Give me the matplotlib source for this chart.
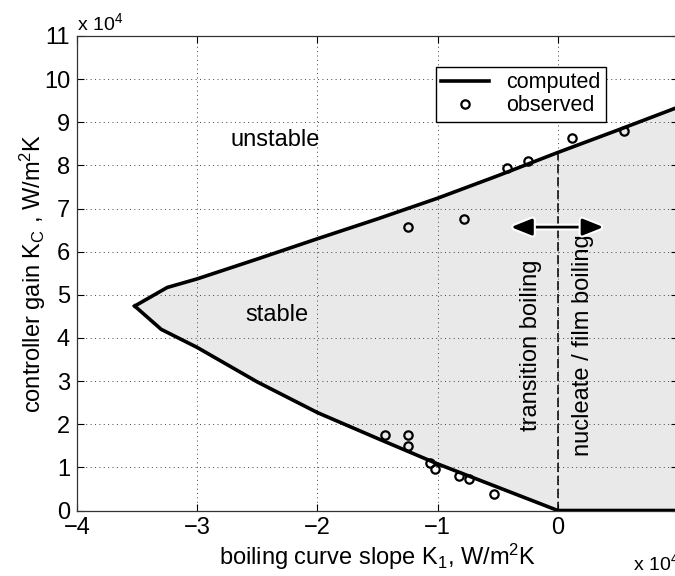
import matplotlib
matplotlib.use("Agg")
import matplotlib.pyplot as plt
import matplotlib.patheffects as pe
import numpy as np

plt.rcParams["font.family"] = ["Liberation Sans", "DejaVu Sans"]
plt.rcParams["mathtext.fontset"] = "custom"
plt.rcParams["mathtext.rm"] = "Liberation Sans"
plt.rcParams["mathtext.it"] = "Liberation Sans"
plt.rcParams["font.size"] = 17

# stability boundary (x in 1e4 W/m2K, y in 1e4 W/m2K)
upper_x = [-3.52, -3.25, -3.0, -2.5, -2.0, -1.5, -1.0, -0.5, 0.0, 0.5, 1.0]
upper_y = [4.74, 5.17, 5.37, 5.83, 6.30, 6.76, 7.24, 7.76, 8.30, 8.82, 9.35]
lower_x = [-3.52, -3.3, -3.0, -2.5, -2.0, -1.5, -1.0, -0.5, 0.0, 1.0]
lower_y = [4.74, 4.20, 3.78, 2.98, 2.27, 1.67, 1.08, 0.54, 0.0, 0.0]

# observed stability limits
obs_x = [-1.25, -0.78, -0.42, -0.25, 0.12, 0.55,
         -1.44, -1.25, -1.25, -1.06, -1.02, -0.82, -0.74, -0.53]
obs_y = [6.57, 6.75, 7.94, 8.10, 8.63, 8.79,
         1.74, 1.74, 1.49, 1.09, 0.97, 0.81, 0.72, 0.39]

fig = plt.figure(figsize=(6.75, 5.76), dpi=100)
ax = fig.add_axes([0.1141, 0.1137, 0.8904, 0.8238])

# shaded stable region
xs = np.linspace(-3.52, 1.0, 400)
up = np.interp(xs, upper_x, upper_y)
lo = np.interp(xs, lower_x, lower_y)
ax.fill_between(xs, lo, up, color="#e9e9e9", lw=0, zorder=0)

ax.plot(upper_x, upper_y, color="k", lw=2.6, zorder=3, label="computed")
ax.plot(lower_x, lower_y, color="k", lw=2.6, zorder=3)
ax.plot(obs_x, obs_y, "o", ms=6, mfc="none", mec="k", mew=1.6, zorder=4,
        label="observed")

ax.plot([0, 0], [0, np.interp(0, upper_x, upper_y)], color="k", lw=1.1,
        dashes=(6, 2.5), zorder=2)

ax.text(-2.35, 8.59, "unstable", ha="center", va="center")
ax.text(-2.34, 4.53, "stable", ha="center", va="center")
ax.text(-0.22, 3.84, "transition boiling", rotation=90, ha="center", va="center")
ax.text(0.21, 3.84, "nucleate / film boiling", rotation=90, ha="center", va="center")

arr = ax.annotate("", xy=(0.38, 6.57), xytext=(-0.39, 6.57),
                  arrowprops=dict(arrowstyle="<|-|>,head_length=0.75,head_width=0.3",
                                  color="k", lw=2, shrinkA=0, shrinkB=0),
                  zorder=5)
arr.arrow_patch.set_path_effects([pe.Stroke(linewidth=5, foreground="white"),
                                  pe.Normal()])

ax.set_xlim(-4, 1)
ax.set_ylim(0, 11)
ax.set_xticks([-4, -3, -2, -1, 0])
ax.set_yticks(range(0, 12))
ax.tick_params(direction="in", length=5, top=True, right=True, width=0.8, pad=5)
for s in ax.spines.values():
    s.set_linewidth(0.9)
    s.set_color("#333333")
ax.grid(True, color="#444444", lw=0.7, dashes=(1, 3.5))
ax.set_axisbelow(True)

ax.set_xlabel("boiling curve slope K$_1$, W/m$^2$K", labelpad=2)
ax.set_ylabel("controller gain K$_C$ , W/m$^2$K", labelpad=-3)

ax.text(0.0, 1.004, "x 10$^4$", transform=ax.transAxes, ha="left", va="bottom",
        fontsize=14)
ax.text(0.925, -0.088, "x 10$^4$", transform=ax.transAxes, ha="left", va="top",
        fontsize=14)

ax.legend(loc="upper left", bbox_to_anchor=(0.597, 0.935), fancybox=False,
          edgecolor="k", framealpha=1, borderpad=0.25, borderaxespad=0,
          handlelength=2.2, labelspacing=0.1, handletextpad=0.8, fontsize=15.5)

fig.savefig("out.png", dpi=100)
